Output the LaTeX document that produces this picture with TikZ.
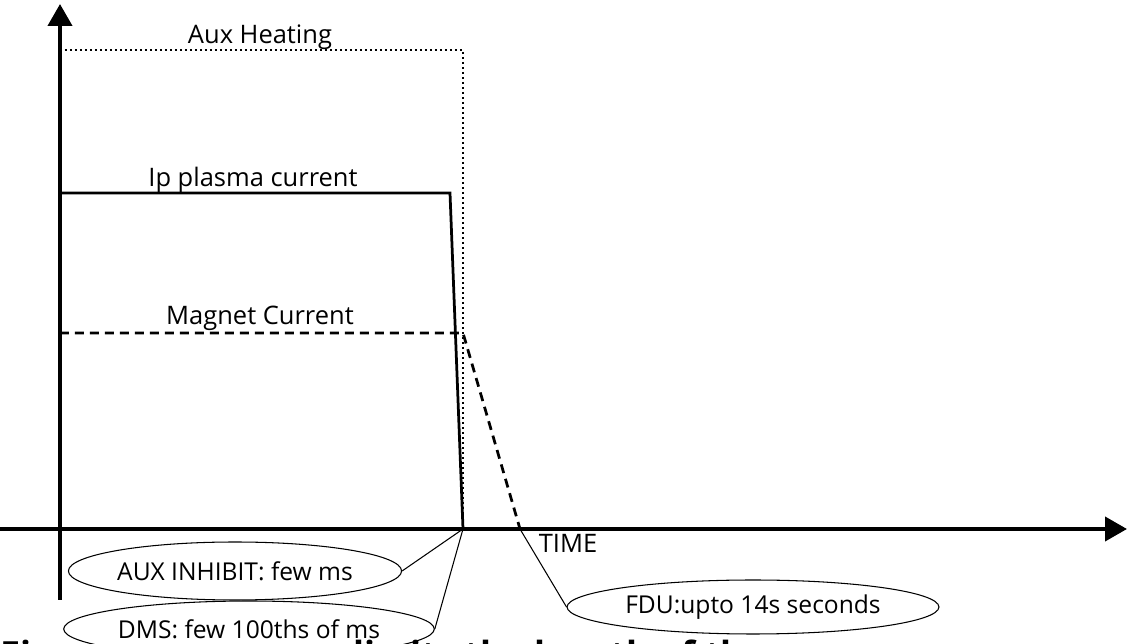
\documentclass[tikz,border=0pt]{standalone}
\usepackage{fontspec}
\setmainfont{Open Sans}
\usetikzlibrary{
    arrows.meta,
    positioning,
    shapes.geometric
}

\begin{document}
\begin{tikzpicture}[
        x=0.02cm, y=-0.02cm,
        >={Triangle[width=0.48cm,length=0.44cm]},
        axis/.style={
            line width=0.08cm
        },
        signal/.style={
            line width=0.055cm
        },
        label/.style={
            inner sep=0,
            font=\fontsize{14.5}{17}\selectfont
        },
        note/.style={
            ellipse,
            draw,
            line width=0.6pt,
            inner sep=0,
            font=\fontsize{14}{17}\selectfont
        },
        lead/.style={
            line width=0.6pt
        }
    ]
        \useasboundingbox (0,0) rectangle (1140,644);

        % axes
        \coordinate (O) at (60,529);
        \draw[axis, ->] (0,529) -- (1127,529);
        \draw[axis, ->] (60,600) -- (60,4);

        % traces
        \coordinate (auxknee) at (463,50);
        \coordinate (tend) at (463,529);
        \coordinate (ipknee) at (450,193);
        \coordinate (magknee) at (463,333);
        \coordinate (magend) at (520,529);
        \draw[line width=0.05cm, dash pattern=on 0.04cm off 0.06cm]
            (60,50) -- (auxknee) -- (tend);
        \draw[signal] (60,193) -- (ipknee) -- (tend);
        \draw[signal, dash pattern=on 0.18cm off 0.12cm]
            (60,333) -- (magknee) -- (magend);

        \node[label] (aux) at (260,37) {Aux Heating};
        \node[label] (ip) at (253,180) {Ip plasma current};
        \node[label] (mag) at (260,318) {Magnet Current};
        \node[label] (time) at (568,543) {TIME};

        % notes
        \node[note, minimum width=6.5cm, minimum height=1.16cm]
            (inhibit) at (235,571) {AUX INHIBIT: few ms};
        \node[note, minimum width=6.96cm, minimum height=1.12cm]
            (dms) at (249,629) {DMS: few 100ths of ms};
        \node[note, minimum width=7.44cm, minimum height=1.08cm]
            (fdu) at (753,607) {FDU:upto 14s seconds};
        \draw[lead] (inhibit.east) -- (tend);
        \draw[lead] (dms.east) -- (tend);
        \draw[lead] (fdu.west) -- (magend);

        % caption, cut by the page edge
        \node[anchor=base west, inner sep=0,
            font=\fontsize{20.5}{24}\selectfont\bfseries]
            (caption) at (0,668) {Figure: some cause limits the length of the};
    \end{tikzpicture}
\end{document}
